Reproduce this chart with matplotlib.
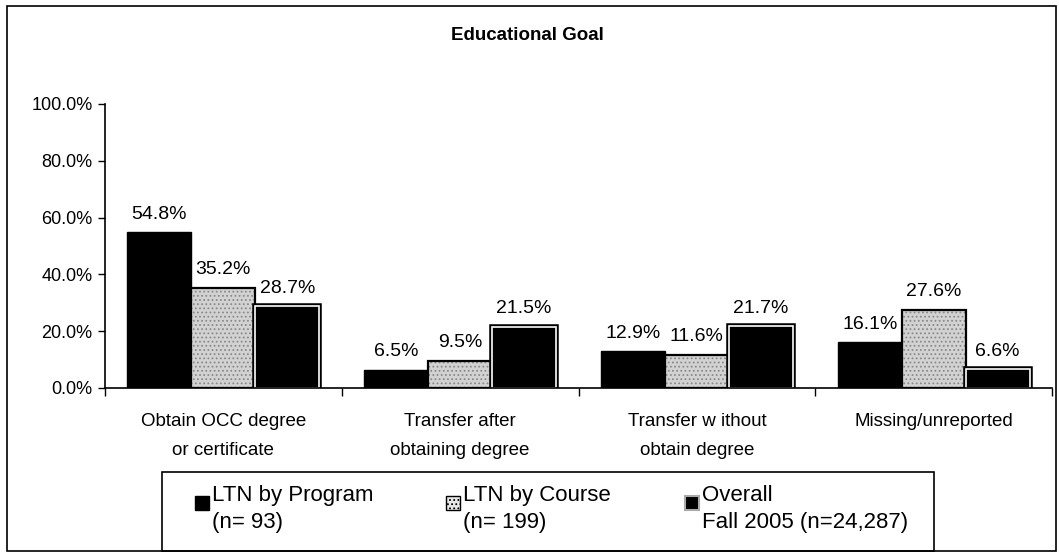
import matplotlib
matplotlib.use("Agg")
import matplotlib.pyplot as plt
import numpy as np
from matplotlib.patches import Rectangle, Patch
from matplotlib.legend_handler import HandlerPatch
from matplotlib.ticker import FuncFormatter, FixedLocator

plt.rcParams['font.family'] = ['Liberation Sans', 'DejaVu Sans']
plt.rcParams['hatch.linewidth'] = 0.8

categories = ["Obtain OCC degree\nor certificate", "Transfer after\nobtaining degree",
              "Transfer w ithout\nobtain degree", "Missing/unreported"]
ltn_program = [54.8, 6.5, 12.9, 16.1]
ltn_course = [35.2, 9.5, 11.6, 27.6]
overall = [28.7, 21.5, 21.7, 6.6]
series_labels = ["LTN by Program\n(n= 93)", "LTN by Course\n(n= 199)", "Overall\nFall 2005 (n=24,287)"]
y_ticks = [0, 20, 40, 60, 80, 100]

W, H = 1059, 556
fig = plt.figure(figsize=(W / 100, H / 100), dpi=100)
ax = fig.add_axes([105 / W, 1 - 388 / H, (1052 - 105) / W, (388 - 104) / H])

x = np.arange(len(categories))
bw = 0.27

# LTN by Program: solid black
ax.bar(x - bw, ltn_program, bw, color='black', edgecolor='black', linewidth=1)
# LTN by Course: dotted grey
ax.bar(x, ltn_course, bw, color='#d2d2d2', edgecolor='#8a8a8a', hatch='....', linewidth=0)
ax.bar(x, ltn_course, bw, facecolor='none', edgecolor='black', linewidth=1.6)
# Overall: black with double border
ax.bar(x + bw, overall, bw, color='black', edgecolor='black', linewidth=4)
ax.bar(x + bw, overall, bw, facecolor='none', edgecolor='white', linewidth=1.2)

for vals, off in ((ltn_program, -bw), (ltn_course, 0), (overall, bw)):
    for xi, v in zip(x, vals):
        ax.annotate(f"{v:.1f}%", (xi + off, v), xytext=(0, 7), textcoords='offset points',
                    ha='center', va='bottom', fontsize=14)

ax.set_xlim(-0.5, len(categories) - 0.5)
ax.set_ylim(0, 100)
ax.set_yticks(y_ticks)
ax.yaxis.set_major_formatter(FuncFormatter(lambda v, p: f"{v:.1f}%"))
ax.tick_params(axis='y', direction='out', length=5, width=1, labelsize=13, pad=4)

ax.set_xticks(x)
ax.set_xticklabels(categories, fontsize=13.5, linespacing=1.9)
ax.xaxis.set_minor_locator(FixedLocator(np.arange(len(categories) + 1) - 0.5))
ax.tick_params(axis='x', which='major', length=0, pad=18)
ax.tick_params(axis='x', which='minor', direction='out', length=6, width=1)

for s in ('top', 'right'):
    ax.spines[s].set_visible(False)
for s in ('left', 'bottom'):
    ax.spines[s].set_linewidth(1.2)
    ax.spines[s].set_color('black')

fig.text(527 / W, 1 - 35 / H, "Educational Goal", ha='center', va='center',
         fontsize=13.5, fontweight='bold')

# outer frame
fig.patches.append(Rectangle((7 / W, 5 / H), (1056 - 7) / W, (550 - 5) / H,
                             transform=fig.transFigure, fill=False, edgecolor='black', linewidth=1.2))
# legend frame
fig.patches.append(Rectangle((162 / W, 1 - 551 / H), (934 - 162) / W, (551 - 472) / H,
                             transform=fig.transFigure, fill=False, edgecolor='black', linewidth=1.2))


class TopSquare(HandlerPatch):
    def create_artists(self, legend, orig_handle, xdescent, ydescent, width, height, fontsize, trans):
        s = fontsize * 0.62
        p = Rectangle((-xdescent + width - s, -ydescent + height - s - 0.12 * fontsize), s, s)
        self.update_prop(p, orig_handle, legend)
        p.set_transform(trans)
        return [p]


handles = [Patch(facecolor='black', edgecolor='black'),
           Patch(facecolor='#e8e8e8', edgecolor='black', hatch='....'),
           Patch(facecolor='black', edgecolor='#aaaaaa', linewidth=1.5)]
leg_x = [192, 443, 682]
for h, lab, lx in zip(handles, series_labels, leg_x):
    leg = fig.legend([h], [lab], loc='upper left', bbox_to_anchor=(lx / W, 1 - 485 / H),
                     fontsize=16, frameon=False, handlelength=0.75, handleheight=1.9,
                     handletextpad=0.15, borderpad=0, borderaxespad=0,
                     handler_map={Patch: TopSquare()})
    for t in leg.get_texts():
        t.set_linespacing(1.35)

fig.savefig("out.png", dpi=100)
